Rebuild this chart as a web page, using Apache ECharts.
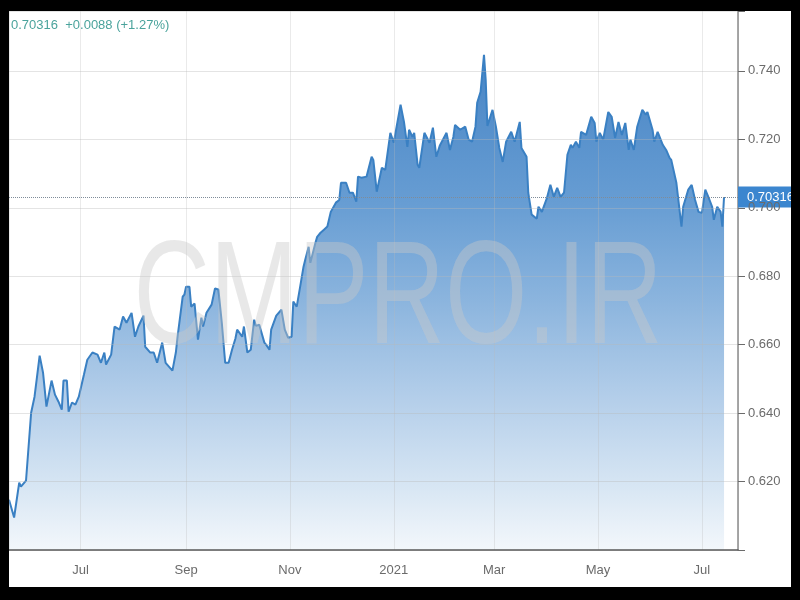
<!DOCTYPE html>
<html>
<head>
<meta charset="utf-8">
<script src="https://cdn.jsdelivr.net/npm/echarts@6/dist/echarts.min.js"></script>
<style>
  html, body { margin: 0; padding: 0; background: #000; width: 800px; height: 600px; overflow: hidden; }
  #chart { position: absolute; left: 9px; top: 11px; width: 782px; height: 576px; background: #fff; }
</style>
</head>
<body>
<div id="chart"></div>
<script>
// Day offsets from 2020-07-01 (local date) of each traced point
const dayOffsets = [
  -42,-39,-38,-36,-35,-32,-29,-27,-24,-22,-21,-20,-17,-15,-13,-11,-10,-8,-7,-5,-3,-1,
  2,4,7,10,12,14,15,18,20,23,25,27,30,32,34,37,38,41,43,45,48,50,54,56,57,60,61,62,64,65,67,69,
  71,72,74,77,79,81,83,85,87,89,91,92,95,96,98,100,102,103,105,108,109,111,112,115,116,118,120,122,124,
  125,127,129,131,132,134,135,138,139,141,143,145,147,150,152,153,156,158,160,162,163,165,168,171,172,
  174,177,179,182,184,188,190,192,193,195,196,198,199,202,205,207,209,211,212,215,217,219,220,223,224,
  226,228,230,232,233,235,237,238,239,242,244,246,248,250,253,255,258,259,262,263,265,268,269,271,274,
  276,278,280,282,284,286,288,289,291,293,294,297,300,302,303,305,307,310,312,314,316,318,320,322,323,
  325,327,330,332,333,336,337,339,342,344,346,347,350,353,354,357,359,361,363,365,367,369,371,372,374,
  376,377,378
];
const rates = [
  0.6147,0.6095,0.6095,0.6197,0.6185,0.6203,0.6401,0.6448,0.6568,0.6518,0.6518,0.6419,0.6495,0.6454,0.6434,0.6410,0.6495,0.6495,0.6404,0.6431,0.6425,0.6448,
  0.6512,0.6556,0.6577,0.6571,0.6547,0.6577,0.6542,0.6571,0.6653,0.6644,0.6682,0.6664,0.6693,0.6623,0.6653,0.6685,0.6594,0.6577,0.6577,0.6547,0.6606,0.6547,0.6524,0.6577,0.6623,0.6740,0.6746,0.6769,0.6769,0.6711,0.6720,0.6615,
  0.6679,0.6653,0.6693,0.6717,0.6764,0.6761,0.6664,0.6547,0.6547,0.6585,0.6618,0.6644,0.6623,0.6653,0.6577,0.6585,0.6673,0.6655,0.6658,0.6606,0.6600,0.6585,0.6644,0.6685,0.6688,0.6702,0.6644,0.6620,0.6623,
  0.6726,0.6711,0.6769,0.6828,0.6848,0.6886,0.6839,0.6898,0.6915,0.6927,0.6936,0.6945,0.6988,0.7015,0.7023,0.7073,0.7073,0.7044,0.7044,0.7018,0.7091,0.7088,0.7091,0.7149,0.7140,
  0.7047,0.7117,0.7111,0.7219,0.7190,0.7301,0.7251,0.7178,0.7228,0.7207,0.7219,0.7126,0.7117,0.7219,0.7190,0.7234,0.7149,0.7181,0.7178,0.7219,0.7169,0.7207,0.7242,0.7228,0.7228,
  0.7237,0.7199,0.7193,0.7237,0.7307,0.7339,0.7447,0.7374,0.7239,0.7286,0.7237,0.7175,0.7134,0.7193,0.7222,0.7193,0.7251,0.7175,0.7149,0.7044,0.6980,0.6968,0.7003,0.6988,0.7029,
  0.7067,0.7032,0.7058,0.7032,0.7044,0.7155,0.7184,0.7175,0.7193,0.7175,0.7222,0.7213,0.7266,0.7248,0.7193,0.7219,0.7199,0.7280,0.7266,0.7204,0.7251,0.7213,0.7248,0.7169,0.7199,
  0.7169,0.7237,0.7286,0.7272,0.7280,0.7228,0.7193,0.7222,0.7184,0.7169,0.7146,0.7140,0.7073,0.6945,0.7003,0.7053,0.7067,0.7023,0.6988,0.6985,0.7053,0.7029,0.7003,0.6965,0.7003,
  0.6988,0.6945,0.70316
];
const yTicks = [0.620, 0.640, 0.660, 0.680, 0.700, 0.720, 0.740];
const monthNames = ['Jan','Feb','Mar','Apr','May','Jun','Jul','Aug','Sep','Oct','Nov','Dec'];
const lastValue = 0.70316;
const headerText = '0.70316  +0.0088 (+1.27%)';
const watermark = 'CMPRO.IR';
const xRangeOffsets = [-42, 386.2];
const yRange = [0.6, 0.7575];

function toDate(off) {
  const whole = Math.floor(off);
  const d = new Date(2020, 6, 1 + whole);
  return d.getTime() + (off - whole) * 86400000;
}
const seriesData = dayOffsets.map((o, i) => [toDate(o), rates[i]]);

const chart = echarts.init(document.getElementById('chart'), null, { renderer: 'canvas' });
chart.setOption({
  animation: false,
  backgroundColor: '#fff',
  textStyle: { fontFamily: 'Arial, "Liberation Sans", sans-serif' },
  grid: { left: 0, right: 53, top: 0, bottom: 37, containLabel: false },
  xAxis: {
    type: 'time',
    z: 5,
    min: toDate(xRangeOffsets[0]),
    max: toDate(xRangeOffsets[1]),
    splitNumber: 6,
    axisLine: { show: true, lineStyle: { color: '#5a5a5a', width: 1.5 } },
    axisTick: { show: false },
    splitLine: { show: true, lineStyle: { color: 'rgba(185,185,185,0.3)', width: 1 } },
    axisLabel: {
      color: '#6b6b6b', fontSize: 13, margin: 14,
      formatter: function (v) {
        const d = new Date(v);
        return d.getMonth() === 0 ? String(d.getFullYear()) : monthNames[d.getMonth()];
      }
    }
  },
  yAxis: {
    type: 'value',
    position: 'right',
    z: 5,
    min: yRange[0], max: yRange[1], interval: 0.02,
    axisLine: { show: true, lineStyle: { color: '#8a8a8a', width: 1.5 } },
    axisTick: { show: true, length: 7, lineStyle: { color: '#6b6b6b' } },
    splitLine: { show: true, lineStyle: { color: 'rgba(185,185,185,0.38)', width: 1 } },
    axisLabel: {
      color: '#6b6b6b', fontSize: 13, margin: 10,
      formatter: function (v) {
        const hit = yTicks.find(t => Math.abs(t - v) < 1e-6);
        return hit !== undefined ? hit.toFixed(3) : '';
      }
    }
  },
  series: [{
    type: 'line',
    data: seriesData,
    showSymbol: false,
    symbol: 'none',
    clip: false,
    z: 2,
    lineStyle: { color: '#3a80c3', width: 2 },
    areaStyle: {
      opacity: 1,
      color: new echarts.graphic.LinearGradient(0, 0, 0, 1, [
        { offset: 0, color: '#4885c5' },
        { offset: 0.3, color: '#679dd3' },
        { offset: 0.5, color: '#8cb5de' },
        { offset: 0.7, color: '#b5cfea' },
        { offset: 0.88, color: '#d9e7f4' },
        { offset: 1, color: '#f3f7fb' }
      ])
    },
    markLine: {
      silent: true,
      precision: 5,
      symbol: ['none', 'none'],
      lineStyle: { type: 'dotted', color: '#7f8c99', width: 1 },
      label: {
        show: true, position: 'end', distance: 0,
        formatter: lastValue.toFixed(5),
        backgroundColor: '#3b86cf', color: '#fff', fontSize: 13,
        padding: [4, 9, 4, 9]
      },
      data: [{ yAxis: lastValue }]
    }
  }],
  graphic: [
    {
      type: 'text', x: 2, y: 14, z: 10,
      style: { text: headerText, fill: '#4aa39c', font: '13px Arial, "Liberation Sans", sans-serif', textVerticalAlign: 'middle', textAlign: 'left' }
    },
    {
      type: 'text', x: 389, y: 291, scaleX: 0.72, z: 20, silent: true,
      style: { text: watermark, fill: 'rgba(200,200,200,0.42)', font: '147px Arial, "Liberation Sans", sans-serif', textVerticalAlign: 'middle', textAlign: 'center' }
    }
  ]
});
</script>
</body>
</html>
